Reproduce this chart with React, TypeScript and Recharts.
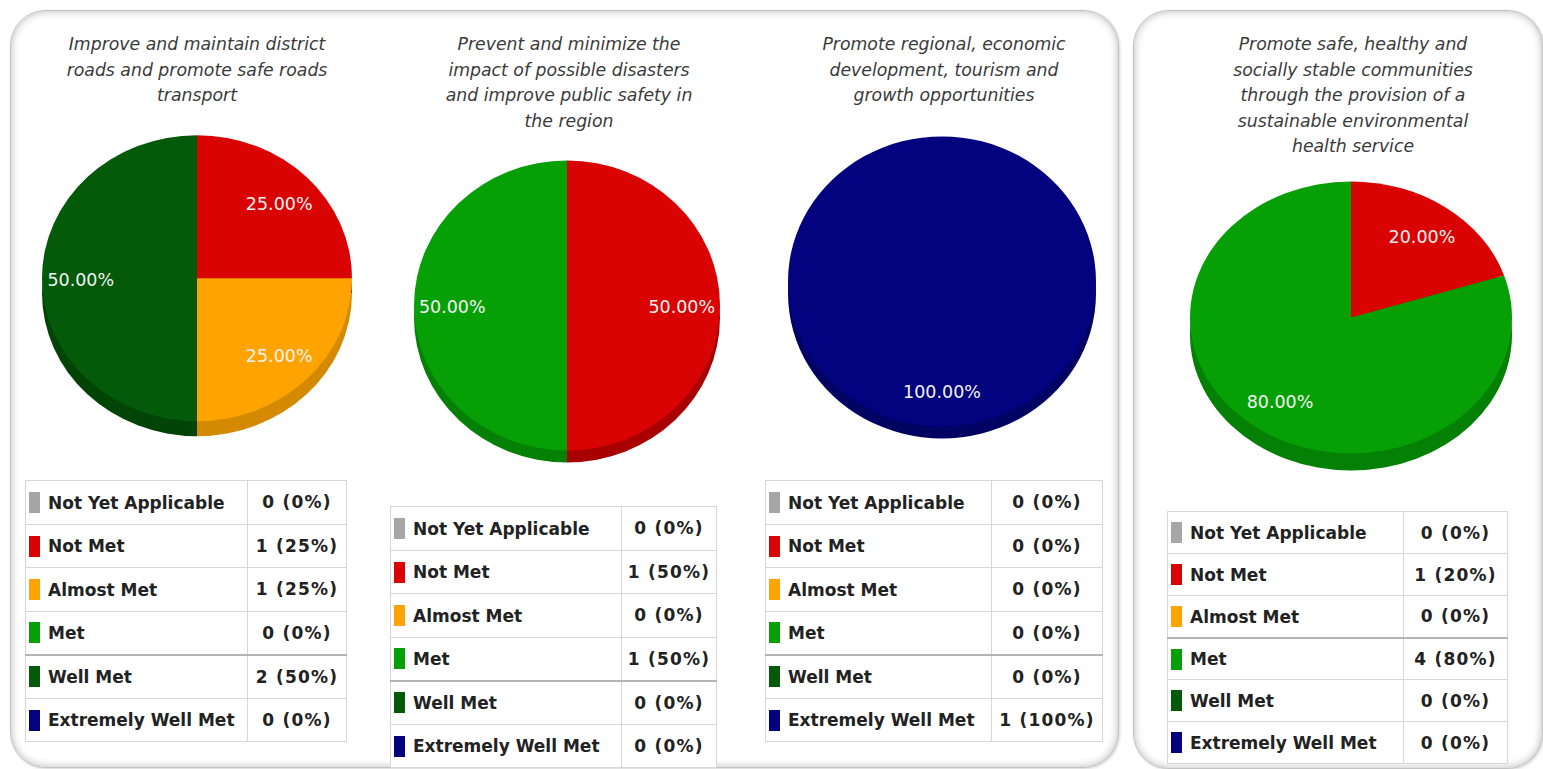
import { PieChart, Pie, Cell } from 'recharts';

const CATEGORIES = ['Not Yet Applicable', 'Not Met', 'Almost Met', 'Met', 'Well Met', 'Extremely Well Met'];
const COLORS = ['#a6a6a6', '#d90303', '#ffa300', '#06a006', '#045a09', '#03037f'];
const SIDE_COLORS = ['#8a8a8a', '#a80000', '#d48a00', '#048004', '#024405', '#020262'];

const TITLES = [
  ['Improve and maintain district', 'roads and promote safe roads', 'transport'],
  ['Prevent and minimize the', 'impact of possible disasters', 'and improve public safety in', 'the region'],
  ['Promote regional, economic', 'development, tourism and', 'growth opportunities'],
  ['Promote safe, healthy and', 'socially stable communities', 'through the provision of a', 'sustainable environmental', 'health service'],
];

const ROADS_COUNTS = [0, 1, 1, 0, 2, 0];
const SAFETY_COUNTS = [0, 1, 0, 1, 0, 0];
const ECONOMY_COUNTS = [0, 0, 0, 0, 0, 1];
const HEALTH_COUNTS = [0, 1, 0, 4, 0, 0];
const COUNTS = [ROADS_COUNTS, SAFETY_COUNTS, ECONOMY_COUNTS, HEALTH_COUNTS];

// layout, page coordinates
const PIES = [
  { cx: 197, cy: 278, rx: 155, ry: 143, depth: 15 },
  { cx: 567, cy: 305, rx: 153, ry: 145, depth: 12 },
  { cx: 942, cy: 281, rx: 154, ry: 145, depth: 12 },
  { cx: 1351, cy: 317, rx: 161, ry: 136, depth: 17 },
];
const TITLE_POS = [
  { cx: 197, top: 32 },
  { cx: 569, top: 32 },
  { cx: 944, top: 32 },
  { cx: 1353, top: 32 },
];
const TABLES = [
  { x: 25, y: 480, w: 322, split: 222, rowH: 43.5, heavy: 4 },
  { x: 390, y: 506, w: 327, split: 231, rowH: 43.5, heavy: 4 },
  { x: 765, y: 480, w: 338, split: 226, rowH: 43.5, heavy: 4 },
  { x: 1167, y: 511, w: 341, split: 236, rowH: 42, heavy: 3 },
];

const RAD = Math.PI / 180;
const FONT = '"DejaVu Sans", Verdana, sans-serif';

const makeLabel = (s: number) => (props: any) => {
  const { cx, cy, midAngle, outerRadius, percent } = props;
  const r = outerRadius * 0.75;
  const x = cx + r * Math.cos(-midAngle * RAD);
  const y = cy + r * Math.sin(-midAngle * RAD);
  return (
    <text
      transform={`translate(${x},${y + 2}) scale(1,${1 / s})`}
      textAnchor="middle"
      dominantBaseline="central"
      fill="#f2f2f2"
      fontSize={17.5}
      fontFamily={FONT}
    >
      {(percent * 100).toFixed(2)}%
    </text>
  );
};

function ObjectivePie({ idx }: { idx: number }) {
  const p = PIES[idx];
  const s = p.ry / p.rx;
  const pad = 10;
  const data = COUNTS[idx]
    .map((v, j) => ({ name: CATEGORIES[j], value: v, color: COLORS[j], side: SIDE_COLORS[j] }))
    .filter(d => d.value > 0);
  const w = p.rx * 2 + pad * 2;
  const h = p.rx * 2 + pad * 2 + p.depth / s;
  const c = p.rx + pad;
  return (
    <div
      style={{
        position: 'absolute',
        left: p.cx - c,
        top: p.cy - c * s,
        width: w,
        height: h,
        transform: `scaleY(${s})`,
        transformOrigin: 'top left',
      }}
    >
      <PieChart width={w} height={h} margin={{ top: 0, right: 0, bottom: 0, left: 0 }}>
        <Pie
          data={data}
          dataKey="value"
          cx={c}
          cy={c + p.depth / s}
          outerRadius={p.rx}
          startAngle={90}
          endAngle={-270}
          stroke="none"
          isAnimationActive={false}
        >
          {data.map(d => <Cell key={d.name} fill={d.side} />)}
        </Pie>
        <Pie
          data={data}
          dataKey="value"
          cx={c}
          cy={c}
          outerRadius={p.rx}
          startAngle={90}
          endAngle={-270}
          stroke="none"
          label={makeLabel(s)}
          labelLine={false}
          isAnimationActive={false}
        >
          {data.map(d => <Cell key={d.name} fill={d.color} />)}
        </Pie>
      </PieChart>
    </div>
  );
}

function Title({ idx }: { idx: number }) {
  const t = TITLE_POS[idx];
  return (
    <div
      style={{
        position: 'absolute',
        left: t.cx - 170,
        top: t.top,
        width: 340,
        textAlign: 'center',
        fontStyle: 'italic',
        fontSize: 17.3,
        lineHeight: '25.5px',
        color: '#3a3a3a',
        fontFamily: FONT,
      }}
    >
      {TITLES[idx].map(l => <div key={l}>{l}</div>)}
    </div>
  );
}

function Summary({ idx }: { idx: number }) {
  const t = TABLES[idx];
  const counts = COUNTS[idx];
  const total = counts.reduce((a, b) => a + b, 0);
  return (
    <table
      style={{
        position: 'absolute',
        left: t.x,
        top: t.y,
        width: t.w,
        borderCollapse: 'collapse',
        fontFamily: FONT,
        fontWeight: 'bold',
        fontSize: 17,
        color: '#222',
        background: '#fff',
        tableLayout: 'fixed',
      }}
    >
      <tbody>
        {CATEGORIES.map((cat, j) => {
          const bt = j === t.heavy ? '2px solid #b4b4b4' : '1px solid #d6d6d6';
          return (
            <tr key={cat} style={{ height: t.rowH }}>
              <td style={{ width: t.split - 4, borderTop: bt, borderBottom: '1px solid #d6d6d6', borderLeft: '1px solid #d6d6d6', borderRight: '1px solid #d6d6d6', padding: '0 0 0 3px', whiteSpace: 'nowrap', overflow: 'hidden' }}>
                <span style={{ display: 'inline-block', width: 11, height: 21, background: COLORS[j], verticalAlign: 'middle', marginRight: 8 }} />
                <span style={{ verticalAlign: 'middle' }}>{cat}</span>
              </td>
              <td style={{ borderTop: bt, borderBottom: '1px solid #d6d6d6', borderRight: '1px solid #d6d6d6', textAlign: 'center', padding: 0, whiteSpace: 'nowrap', letterSpacing: 1.2 }}>
                {counts[j]} ({total ? Math.round((counts[j] / total) * 100) : 0}%)
              </td>
            </tr>
          );
        })}
      </tbody>
    </table>
  );
}

const panelStyle = {
  position: 'absolute' as const,
  top: 10,
  borderRadius: 36,
  border: '1.5px solid #c2c2c2',
  background: '#fff',
  boxShadow: 'inset 0 0 9px rgba(0,0,0,0.28), 1px 1px 3px rgba(0,0,0,0.18)',
};

export default function App() {
  return (
    <div style={{ position: 'relative', width: 1543, height: 769, overflow: 'hidden', background: '#fff' }}>
      <style>{'body{margin:0}'}</style>
      <div style={{ ...panelStyle, left: 10, width: 1107, height: 756 }} />
      <div style={{ ...panelStyle, left: 1133, width: 408, height: 757 }} />
      {[0, 1, 2, 3].map(i => (
        <div key={i}>
          <Title idx={i} />
          <ObjectivePie idx={i} />
          <Summary idx={i} />
        </div>
      ))}
    </div>
  );
}
